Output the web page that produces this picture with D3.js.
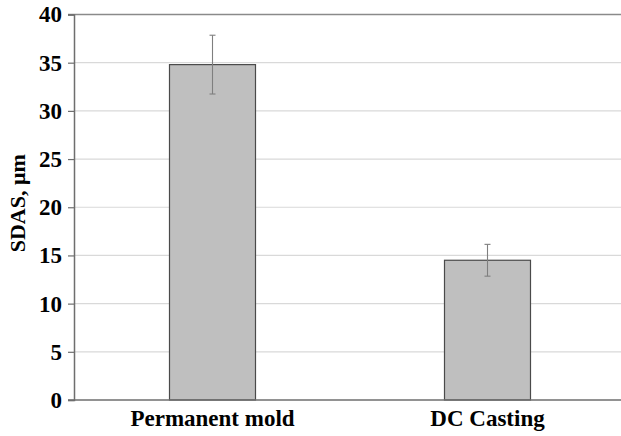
<!DOCTYPE html>
<html>
<head>
<meta charset="utf-8">
<script src="https://cdn.jsdelivr.net/npm/d3@7"></script>
<style>
  body { margin: 0; background: #fff; }
  svg { display: block; }
  text { font-family: "Liberation Serif", "Times New Roman", serif; font-weight: bold; }
</style>
</head>
<body>
<svg id="chart" width="621" height="436"></svg>
<script>
// Data
const categories = ["Permanent mold", "DC Casting"];
const sdas = [34.8, 14.5];
const sdasErr = [3.05, 1.65];
const yTicks = [0, 5, 10, 15, 20, 25, 30, 35, 40];

const W = 621, H = 436;
const margin = { top: 14.5, right: 0, bottom: 36, left: 74 };
const svg = d3.select("#chart");

const x = d3.scaleBand()
  .domain(categories)
  .range([margin.left + 1, 625])
  .padding(0);

const y = d3.scaleLinear()
  .domain([0, 40])
  .range([H - margin.bottom, margin.top]);

const BAR_W = 86;

// Gridlines
svg.append("g")
  .selectAll("line")
  .data(yTicks.filter((t) => t > 0 && t < 40))
  .join("line")
  .attr("x1", margin.left).attr("x2", W)
  .attr("y1", (d) => y(d)).attr("y2", (d) => y(d))
  .attr("stroke", "#d9d9d9")
  .attr("stroke-width", 1.2);

// Top border
svg.append("line")
  .attr("x1", margin.left - 6).attr("x2", W)
  .attr("y1", y(40)).attr("y2", y(40))
  .attr("stroke", "#8a8a8a").attr("stroke-width", 1.5);

// Bars
svg.append("g")
  .selectAll("rect")
  .data(categories)
  .join("rect")
  .attr("x", (d) => x(d) + x.bandwidth() / 2 - BAR_W / 2)
  .attr("width", BAR_W)
  .attr("y", (d, i) => y(sdas[i]))
  .attr("height", (d, i) => y(0) - y(sdas[i]))
  .attr("fill", "#bfbfbf")
  .attr("stroke", "#4a4a4a")
  .attr("stroke-width", 1.2);

// Error bars
const err = svg.append("g").attr("stroke", "#7f7f7f").attr("stroke-width", 1.1);
categories.forEach((c, i) => {
  const cx = x(c) + x.bandwidth() / 2;
  const top = y(sdas[i] + sdasErr[i]);
  const bot = y(sdas[i] - sdasErr[i]);
  err.append("line").attr("x1", cx).attr("x2", cx).attr("y1", top).attr("y2", bot);
  err.append("line").attr("x1", cx - 3).attr("x2", cx + 3).attr("y1", top).attr("y2", top);
  err.append("line").attr("x1", cx - 3).attr("x2", cx + 3).attr("y1", bot).attr("y2", bot);
});

// Y axis
const yAxis = svg.append("g")
  .attr("transform", `translate(${margin.left},0)`)
  .call(d3.axisLeft(y).tickValues(yTicks).tickSize(6).tickPadding(6));
yAxis.attr("font-family", null).attr("font-size", null);
yAxis.select(".domain").attr("stroke", "#6e6e6e").attr("stroke-width", 1.5);
yAxis.selectAll(".tick line").attr("stroke", "#6e6e6e").attr("stroke-width", 1.2);
yAxis.selectAll(".tick text")
  .attr("fill", "#000")
  .style("font-size", "23px")
  .style("font-family", "'Liberation Serif', serif")
  .style("font-weight", "bold");

// X axis
const xAxis = svg.append("g")
  .attr("transform", `translate(0,${y(0)})`)
  .call(d3.axisBottom(x).tickSize(0).tickPadding(10));
xAxis.attr("font-family", null).attr("font-size", null);
xAxis.select(".domain").remove();
svg.append("line")
  .attr("x1", margin.left - 6).attr("x2", W)
  .attr("y1", y(0)).attr("y2", y(0))
  .attr("stroke", "#6e6e6e").attr("stroke-width", 1.5);
xAxis.selectAll(".tick text")
  .attr("fill", "#000")
  .style("font-size", "23px")
  .style("font-family", "'Liberation Serif', serif")
  .style("font-weight", "bold");

// Y axis title
svg.append("text")
  .attr("transform", `translate(25,${(y(0) + y(40)) / 2 - 4}) rotate(-90)`)
  .attr("text-anchor", "middle")
  .style("font-size", "22px")
  .text("SDAS, μm");
</script>
</body>
</html>
